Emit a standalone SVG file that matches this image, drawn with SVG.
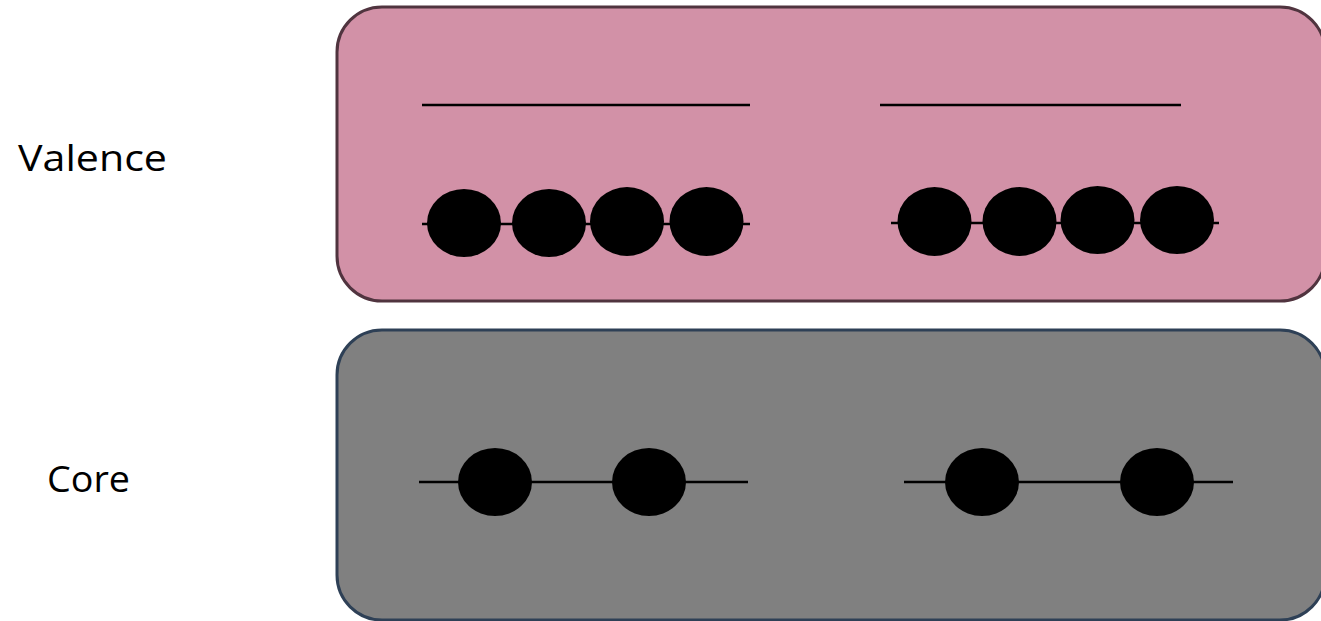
<svg xmlns="http://www.w3.org/2000/svg" width="1321" height="621" viewBox="0 0 1321 621">
<style>
.lbl{font-family:"Open Sans","Liberation Sans",sans-serif;font-size:37px;fill:#000}
.ln{stroke:#000;stroke-width:2.5;fill:none}
.e{fill:#000}
</style>
<rect width="1321" height="621" fill="#fff"/>
<g id="valence-box">
<rect x="337" y="7" width="988" height="294" rx="45" fill="#D291A7" stroke="#50343F" stroke-width="3"/>
</g>
<g id="core-box">
<rect x="337" y="330" width="988" height="290" rx="45" fill="#808080" stroke="#2E4056" stroke-width="3"/>
</g>
<g id="labels">
<text class="lbl" x="18" y="171" textLength="149" lengthAdjust="spacingAndGlyphs">Valence</text>
<text class="lbl" x="47" y="492" textLength="83" lengthAdjust="spacingAndGlyphs">Core</text>
</g>
<g id="connectors">
<line class="ln" x1="422" y1="105" x2="750" y2="105"/>
<line class="ln" x1="880" y1="105" x2="1181" y2="105"/>
<line class="ln" x1="422" y1="224" x2="750" y2="224"/>
<line class="ln" x1="891" y1="223" x2="1219" y2="223"/>
<line class="ln" x1="419" y1="482" x2="748" y2="482"/>
<line class="ln" x1="904" y1="482" x2="1233" y2="482"/>
</g>
<g id="valence-left">
<ellipse class="e" cx="464" cy="223" rx="37" ry="34"/>
<ellipse class="e" cx="549" cy="223" rx="37" ry="34"/>
<ellipse class="e" cx="627" cy="221.5" rx="37" ry="34.5"/>
<ellipse class="e" cx="706.5" cy="221.5" rx="37" ry="34.5"/>
</g>
<g id="valence-right">
<ellipse class="e" cx="934.5" cy="221.5" rx="37" ry="34.5"/>
<ellipse class="e" cx="1019.5" cy="221.5" rx="37" ry="34.5"/>
<ellipse class="e" cx="1097.5" cy="220" rx="37" ry="34"/>
<ellipse class="e" cx="1177" cy="220" rx="37" ry="34"/>
</g>
<g id="core-left">
<ellipse class="e" cx="495" cy="482" rx="37" ry="34"/>
<ellipse class="e" cx="649" cy="482" rx="37" ry="34"/>
</g>
<g id="core-right">
<ellipse class="e" cx="982" cy="482" rx="37" ry="34"/>
<ellipse class="e" cx="1157" cy="482" rx="37" ry="34"/>
</g>
</svg>
